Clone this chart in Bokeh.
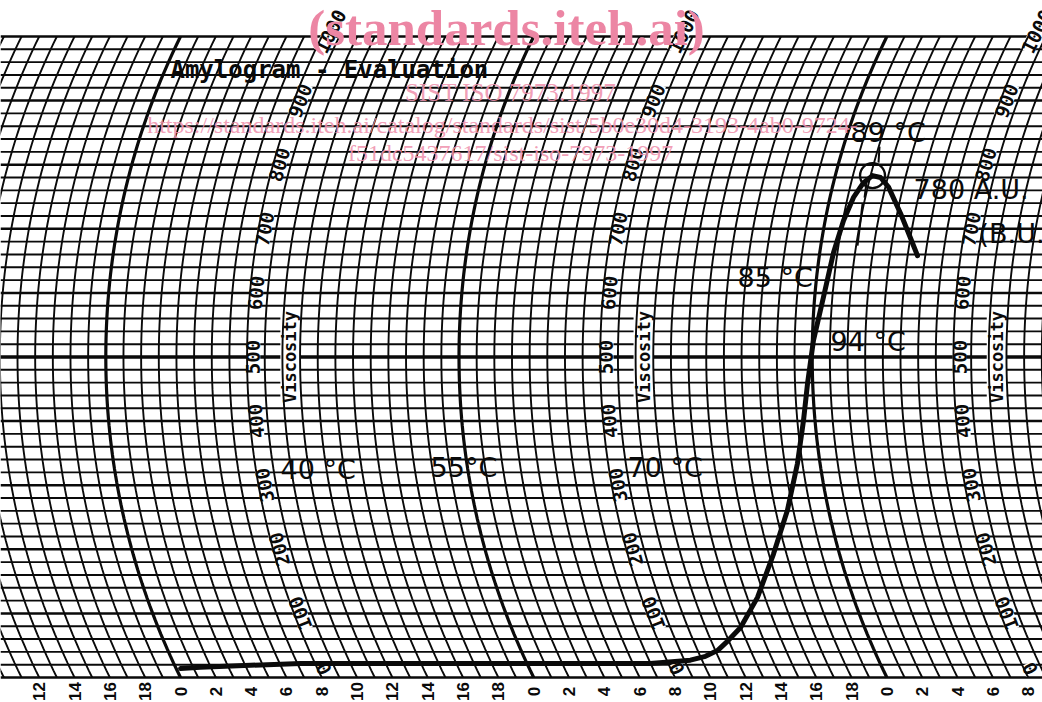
import math
import numpy as np
from bokeh.plotting import figure
from bokeh.models import Range1d
from bokeh.core.properties import value
from bokeh.embed import file_html
from bokeh.resources import INLINE

# ---------------- data ----------------
# pasting curve: recording time (min, on the chart's running time scale) and viscosity (A.U.)
curve_time = [0.25, 1.41, 4.29, 7.18, 12.84, 18.50, 24.16, 26.99, 29.34, 30.29, 31.12, 31.99,
              32.98, 34.58, 36.27, 37.67, 38.72, 39.35, 39.71, 40.06, 40.50, 40.78, 41.04,
              41.33, 41.70, 42.11, 42.59, 43.18, 44.19, 45.00, 45.56]
curve_visc = [14, 16, 19, 22, 22, 22, 22, 22, 27, 33, 42, 58,
              78, 125, 193, 261, 334, 401, 459, 526, 594, 663, 713,
              749, 772, 783, 780, 765, 724, 686, 658]

time_ticks = [-8, -6, -4, -2, 0, 2, 4, 6, 8, 10, 12, 14, 16, 18, 20, 22, 24, 26, 28,
              30, 32, 34, 36, 38, 40, 42, 44, 46, 48]
time_tick_labels = ["12", "14", "16", "18", "0", "2", "4", "6", "8", "10", "12", "14", "16",
                    "18", "0", "2", "4", "6", "8", "10", "12", "14", "16", "18", "0", "2",
                    "4", "6", "8"]

visc_levels = [0, 100, 200, 300, 400, 500, 600, 700, 800, 900, 1000]
visc_labels = ["0", "100", "200", "300", "400", "500", "600", "700", "800", "900", "1000"]
scale_cycles = [0, 20, 40]

title_text = "Amylogram - Evaluation"
note_text = ["40 °C", "55°C", "70 °C", "85 °C", "94 °C", "89 °C", "780 A.U.", "(B.U.)"]
note_time = [5.66, 14.16, 25.31, 31.54, 36.81, 37.94, 41.51, 45.19]
note_visc = [324.5, 327.6, 327.6, 624.0, 524.2, 850.2, 761.3, 692.7]

wm_big = "(standards.iteh.ai)"
wm_lines = ["SIST ISO 7973:1997",
            "https://standards.iteh.ai/catalog/standards/sist/5b0e30d4-3193-4ab0-9724-",
            "f51dc5437617/sist-iso-7973-1997"]

# ---------------- geometry of the recording paper ----------------
W, H = 1042, 702
PX_MIN = 17.66        # px per minute
PX_AU = 0.641         # px per A.U.
R_PX = 725.0          # radius of the pen arc (px)
T0_PX = 180.0         # canvas x of minute 0
V0_PX = 677.0         # canvas y (from top) of 0 A.U.

X0 = -T0_PX / PX_MIN
X1 = X0 + W / PX_MIN
Y0 = -(H - V0_PX) / PX_AU
Y1 = Y0 + H / PX_AU

D0 = R_PX - math.sqrt(R_PX ** 2 - (500 * PX_AU) ** 2)


def arc_x(t, v):
    dy = (np.asarray(v, dtype=float) - 500.0) * PX_AU
    d = R_PX - np.sqrt(R_PX ** 2 - dy ** 2)
    return t + (d - D0) / PX_MIN


def arc_angle(v):
    dy = (v - 500.0) * PX_AU
    return math.pi / 2 - math.asin(dy / R_PX)


def dx_px(px):
    return px / PX_MIN


def dv_px(px):
    return px / PX_AU


INK = "#0a0a0a"
PINK_BIG = "#ec86a4"
PINK = "#ef93ae"

p = figure(width=W, height=H, x_range=Range1d(X0, X1), y_range=Range1d(Y0, Y1),
           output_backend="svg", toolbar_location=None, min_border=0,
           x_axis_type=None, y_axis_type=None)
p.outline_line_color = None
p.background_fill_color = "white"
p.border_fill_color = "white"

# horizontal viscosity lines (every 20 A.U.)
for v in range(0, 1001, 20):
    lw = 1.9
    if v % 100 == 0:
        lw = 2.5
    if v == 500:
        lw = 3.4
    p.segment(x0=[X0], y0=[v], x1=[X1], y1=[v], line_color=INK, line_width=lw)

# viscosity scale labels (white band, drawn before the arcs)
for cyc in scale_cycles:
    sx, sy, st, sa = [], [], [], []
    for lev, lab in zip(visc_levels, visc_labels):
        vpos = lev
        if lev == 0:
            vpos = 14
        if lev == 1000:
            vpos = 1008
        sx.append(float(arc_x(cyc + 8.35, vpos)))
        sy.append(vpos)
        st.append(lab)
        sa.append(arc_angle(vpos))
    p.text(x=sx, y=sy, text=st, angle=sa, text_align="center", text_baseline="middle",
           text_font=value("DejaVu Sans Mono"), text_font_style="bold", text_font_size="19px",
           text_color=INK, background_fill_color="white", padding=0)
    p.text(x=[float(arc_x(cyc + 10.45, 500))], y=[500], text=["Viscosity"], angle=[math.pi / 2],
           text_align="center", text_baseline="middle",
           text_font=value("DejaVu Sans Mono"), text_font_style="bold", text_font_size="17px",
           text_color=INK, background_fill_color="white", padding=0)

# time arcs (every minute, bold every 20 minutes)
vv = np.linspace(0, 1000, 90)
thin_xs, thin_ys, bold_xs, bold_ys = [], [], [], []
for t in range(-14, 54):
    xs = list(arc_x(t, vv))
    if t % 20 == 0:
        bold_xs.append(xs)
        bold_ys.append(list(vv))
    else:
        thin_xs.append(xs)
        thin_ys.append(list(vv))
p.multi_line(xs=thin_xs, ys=thin_ys, line_color=INK, line_width=1.9)
p.multi_line(xs=bold_xs, ys=bold_ys, line_color=INK, line_width=3.2)

# time labels under the paper
p.text(x=time_ticks, y=[Y0 + dv_px(11)] * len(time_ticks), text=time_tick_labels,
       angle=math.pi / 2, text_align="center", text_baseline="middle",
       text_font=value("Liberation Sans"), text_font_style="bold", text_font_size="17px",
       text_color=INK)

# the pasting curve
cx = [float(arc_x(t, v)) for t, v in zip(curve_time, curve_visc)]
p.line(x=cx, y=curve_visc, line_color=INK, line_width=5, line_join="round", line_cap="round")

# peak marking
ipk = int(np.argmax(curve_visc))
pk_x, pk_v = cx[ipk], curve_visc[ipk]
p.scatter(x=[pk_x], y=[pk_v], marker="circle", size=25, fill_color=None,
          line_color=INK, line_width=2.4)
p.segment(x0=[pk_x + dx_px(7), pk_x - dx_px(6), pk_x - dx_px(10)],
          y0=[pk_v + dv_px(29), pk_v - dv_px(6), pk_v - dv_px(28)],
          x1=[pk_x + dx_px(6), pk_x - dx_px(8), pk_x - dx_px(15)],
          y1=[pk_v + dv_px(13), pk_v - dv_px(22), pk_v - dv_px(70)],
          line_color=INK, line_width=2)

# hand lettering
p.text(x=[-0.57], y=[948.5], text=[title_text], text_align="left", text_baseline="middle",
       text_font=value("DejaVu Sans Mono"), text_font_style="bold", text_font_size="24px",
       text_color=INK)
p.text(x=note_time, y=note_visc, text=note_text, text_align="left", text_baseline="middle",
       text_font=value("DejaVu Sans"), text_font_size="27px", text_color=INK)

# watermark
p.text(x=[18.46], y=[1012.5], text=[wm_big], text_align="center", text_baseline="alphabetic",
       text_font=value("Liberation Serif"), text_font_style="bold", text_font_size="51px",
       text_color=PINK_BIG)
p.text(x=[18.69, 18.23, 18.69], y=[912.6, 862.7, 817.5], text=wm_lines,
       text_align="center", text_baseline="middle",
       text_font=value("Liberation Serif"), text_font_size=["25px", "24px", "24px"],
       text_color=PINK, text_alpha=0.9)

open("out.html", "w").write(file_html(p, INLINE))
